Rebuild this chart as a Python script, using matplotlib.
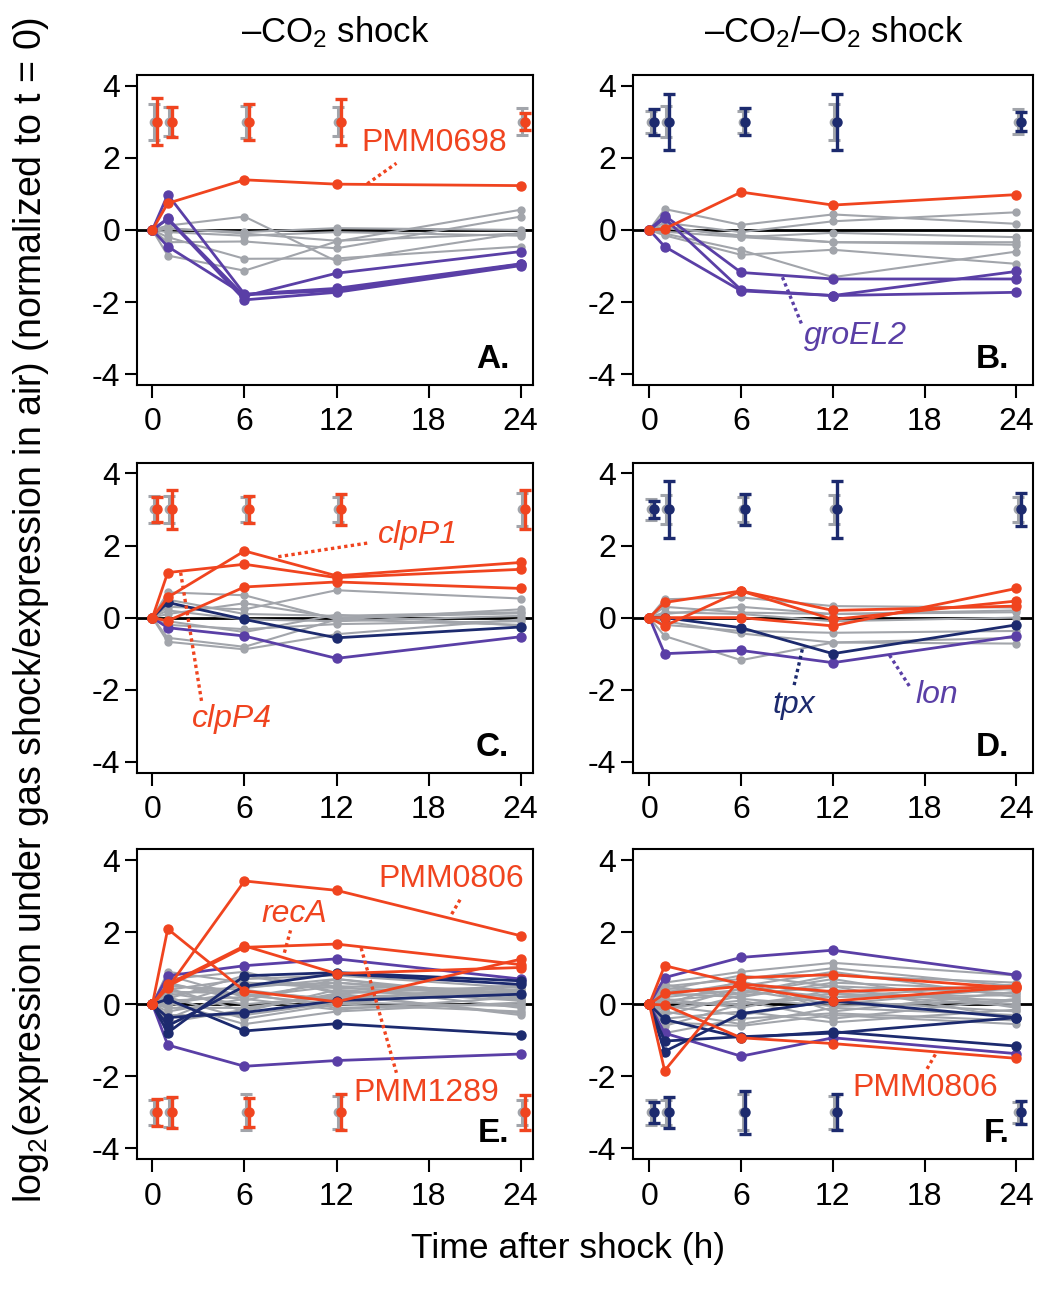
import matplotlib
matplotlib.use("Agg")
import matplotlib.pyplot as plt

plt.rcParams['font.family'] = ['Liberation Sans', 'DejaVu Sans']
plt.rcParams['mathtext.fontset'] = 'custom'
plt.rcParams['mathtext.rm'] = 'Liberation Sans'
plt.rcParams['mathtext.it'] = 'Liberation Sans:italic'
plt.rcParams['axes.unicode_minus'] = False

RED = '#f0441f'
PURPLE = '#5a3fa6'
NAVY = '#1c2a6e'
GRAY = '#a2a5ab'

# %% data: time points and log2 ratios
hours = [0, 1, 6, 12, 24]

A_red = [[0, 0.74, 1.39, 1.27, 1.23]]
A_purple = [[0, 0.98, -1.78, -1.62, -0.94], [0, 0.32, -1.84, -1.2, -0.6],
            [0, 0.30, -1.94, -1.73, -0.99], [0, -0.46, -1.8, -1.68, -0.95]]
A_navy = []
A_gray = [[0, 0.12, 0.37, -0.87, -0.08], [0, 0.03, -0.06, 0.05, 0.0],
          [0, -0.06, -0.16, -0.06, -0.16], [0, -0.34, -0.32, -0.51, 0.37],
          [0, -0.71, -1.13, -0.32, 0.56], [0, -0.2, -0.8, -0.79, -0.46],
          [0, 0.05, -0.1, -0.3, -0.1]]

B_red = [[0, 0.03, 1.05, 0.69, 0.98]]
B_purple = [[0, 0.4, -1.18, -1.36, -1.36], [0, 0.32, -1.66, -1.82, -1.15],
            [0, -0.46, -1.69, -1.82, -1.73]]
B_navy = []
B_gray = [[0, 0.58, 0.14, 0.43, 0.17], [0, 0.2, -0.06, 0.24, 0.49],
          [0, 0.1, -0.2, -0.08, -0.2], [0, -0.05, -0.2, -0.34, -0.41],
          [0, -0.1, -0.56, -1.31, -0.6], [0, -0.15, -0.69, -0.55, -0.94],
          [0, 0.05, -0.15, -0.34, -0.34]]

C_red = [[0, 1.25, 1.48, 1.11, 1.34], [0, 0.56, 1.85, 1.16, 1.53],
         [0, -0.09, 0.85, 0.99, 0.81]]
C_purple = [[0, -0.28, -0.51, -1.13, -0.53]]
C_navy = [[0, 0.42, -0.05, -0.56, -0.26]]
C_gray = [[0, 0.7, 0.62, -0.05, 0.23], [0, 0.3, 0.23, 0.76, 0.53],
          [0, 0.5, 0.1, 0.05, 0.15], [0, 0.2, -0.05, -0.1, 0.05],
          [0, -0.2, -0.32, -0.18, -0.1], [0, -0.56, -0.81, -0.05, -0.2],
          [0, -0.67, -0.88, -0.46, -0.05], [0, 0.1, 0.4, 0.0, 0.12],
          [0, -0.1, -0.4, 0.08, -0.22]]

D_red = [[0, 0.42, 0.74, 0.2, 0.32], [0, -0.23, 0.74, -0.05, 0.46],
         [0, 0.0, 0.0, -0.23, 0.81]]
D_purple = [[0, -1.0, -0.91, -1.25, -0.51]]
D_navy = [[0, 0.0, -0.28, -1.0, -0.2]]
D_gray = [[0, 0.51, 0.56, 0.32, 0.28], [0, 0.3, 0.14, 0.1, 0.2],
          [0, 0.15, 0.1, -0.1, 0.0], [0, -0.2, -0.37, -0.42, -0.37],
          [0, -0.51, -1.18, -0.69, -0.72], [0, -0.1, -0.44, -0.69, -0.56],
          [0, 0.1, 0.3, 0.1, 0.15]]

E_red = [[0, 0.45, 3.42, 3.16, 1.9], [0, 2.09, 0.37, 0.07, 1.25],
         [0, 0.5, 1.58, 1.67, 1.1], [0, 0.55, 1.62, 0.85, 1.02]]
E_purple = [[0, 0.79, 1.07, 1.26, 0.7], [0, -1.13, -1.72, -1.56, -1.38]]
E_navy = [[0, 0.14, -0.74, -0.54, -0.84], [0, -0.79, 0.79, 0.88, 0.65],
          [0, -0.37, -0.23, 0.1, 0.28], [0, -0.6, 0.5, 0.85, 0.55]]
E_gray = [[0, 0.9, 0.6, 0.5, 0.4], [0, 0.8, 0.2, 0.6, 0.3],
          [0, 0.7, 0.9, 0.3, 0.5], [0, 0.6, 0.1, 0.7, 0.2],
          [0, 0.5, 0.4, 0.1, 0.55], [0, 0.45, -0.2, 0.4, 0.1],
          [0, 0.4, 0.7, 0.8, 0.45], [0, 0.35, 0.3, -0.1, 0.0],
          [0, 0.3, 0.0, 0.2, 0.35], [0, 0.25, 0.5, 0.6, 0.15],
          [0, 0.2, -0.4, 0.0, -0.2], [0, 0.15, 0.8, 0.35, 0.25],
          [0, 0.1, 0.2, 0.5, -0.1], [0, 0.05, -0.55, -0.2, 0.05],
          [0, 0.0, 0.35, 0.15, 0.4], [0, -0.05, 0.6, 0.45, 0.3],
          [0, -0.1, -0.1, 0.25, -0.25], [0, -0.2, 0.15, -0.15, 0.2],
          [0, -0.3, -0.3, 0.05, -0.05], [0, -0.4, 0.45, 0.7, 0.1],
          [0, -0.5, -0.15, 0.3, -0.3], [0, 0.55, 0.25, 0.0, 0.5]]

F_red = [[0, 1.07, 0.56, 0.35, 0.5], [0, -1.84, 0.74, 0.82, 0.45],
         [0, 0.3, 0.5, 0.09, 0.48], [0, -0.02, -0.93, -1.09, -1.5]]
F_purple = [[0, 0.74, 1.3, 1.5, 0.81], [0, -0.8, -1.44, -0.93, -1.37]]
F_navy = [[0, -0.42, -0.93, -0.76, -1.16], [0, -1.31, -0.26, 0.09, -0.37],
          [0, -1.02, -0.9, -0.8, -0.37]]
F_gray = [[0, 0.6, 0.9, 1.15, 0.8], [0, 0.5, 0.7, 1.0, 0.5],
          [0, 0.45, 0.3, 0.8, 0.6], [0, 0.4, 0.8, 0.5, 0.3],
          [0, 0.35, 0.5, 0.9, 0.2], [0, 0.3, 0.2, 0.6, 0.4],
          [0, 0.25, 0.6, 0.3, 0.1], [0, 0.2, 0.4, 0.0, 0.45],
          [0, 0.15, -0.1, 0.4, 0.0], [0, 0.1, 0.3, 0.7, -0.1],
          [0, 0.05, 0.0, 0.2, 0.25], [0, 0.0, 0.65, -0.2, 0.35],
          [0, -0.05, -0.3, 0.1, -0.2], [0, -0.1, 0.1, -0.4, 0.15],
          [0, -0.2, -0.55, -0.1, -0.3], [0, -0.3, 0.25, 0.5, -0.4],
          [0, -0.4, -0.2, -0.5, -0.15], [0, -0.5, -0.6, -0.3, -0.55],
          [0, -0.6, 0.0, 0.3, -0.05], [0, -0.8, -0.4, -0.25, -0.45],
          [0, 0.55, 0.15, -0.05, 0.1], [0, -0.15, 0.45, 0.2, 0.55]]

# error bar half-widths (gray = all genes, coloured = highlighted genes)
A_err_gray = [0.5, 0.4, 0.45, 0.4, 0.37]
A_err_col = [0.65, 0.42, 0.5, 0.63, 0.23]
B_err_gray = [0.3, 0.43, 0.3, 0.5, 0.35]
B_err_col = [0.36, 0.77, 0.38, 0.77, 0.26]
C_err_gray = [0.37, 0.37, 0.35, 0.35, 0.45]
C_err_col = [0.35, 0.55, 0.37, 0.43, 0.53]
D_err_gray = [0.3, 0.4, 0.35, 0.4, 0.35]
D_err_col = [0.23, 0.8, 0.44, 0.79, 0.47]
E_err_gray = [0.35, 0.4, 0.5, 0.45, 0.35]
E_err_col = [0.38, 0.43, 0.4, 0.5, 0.48]
F_err_gray = [0.35, 0.35, 0.5, 0.45, 0.3]
F_err_col = [0.29, 0.43, 0.6, 0.5, 0.33]

panels = [
    ('A.', A_gray, A_purple, A_navy, A_red, A_err_gray, A_err_col, 3, RED),
    ('B.', B_gray, B_purple, B_navy, B_red, B_err_gray, B_err_col, 3, NAVY),
    ('C.', C_gray, C_purple, C_navy, C_red, C_err_gray, C_err_col, 3, RED),
    ('D.', D_gray, D_purple, D_navy, D_red, D_err_gray, D_err_col, 3, NAVY),
    ('E.', E_gray, E_purple, E_navy, E_red, E_err_gray, E_err_col, -3, RED),
    ('F.', F_gray, F_purple, F_navy, F_red, F_err_gray, F_err_col, -3, NAVY),
]

# gene labels: (panel, text, x, y, colour, italic, leader from, leader to)
labels = [
    (0, 'PMM0698', 13.6, 2.2, RED, False, (14.0, 1.28), (15.9, 1.85)),
    (1, 'groEL2', 10.1, -3.17, PURPLE, True, (8.7, -1.31), (10.0, -2.66)),
    (2, 'clpP1', 14.7, 2.08, RED, True, (8.2, 1.69), (14.2, 2.08)),
    (2, 'clpP4', 2.6, -3.04, RED, True, (1.84, 1.25), (3.2, -2.31)),
    (3, 'tpx', 8.05, -2.64, NAVY, True, (10.0, -0.88), (9.45, -1.9)),
    (3, 'lon', 17.4, -2.36, PURPLE, True, (15.7, -1.04), (17.0, -1.9)),
    (4, 'PMM0806', 14.7, 3.24, RED, False, (19.5, 2.5), (20.1, 2.94)),
    (4, 'recA', 7.1, 2.27, RED, True, (8.6, 1.43), (9.0, 2.05)),
    (4, 'PMM1289', 13.1, -2.69, RED, False, (13.6, 1.56), (15.9, -1.9)),
    (5, 'PMM0806', 13.3, -2.55, RED, False, (18.7, -1.39), (18.1, -1.83)),
]

# %% figure
fig = plt.figure(figsize=(10.39, 12.94), dpi=100)
lefts = [0.1319, 0.6095]
widths = [0.3811, 0.385]
bottoms = [0.7025, 0.4029, 0.1041]
height = 0.2396
xlims = [(-1.0, 24.8), (-1.05, 25.1)]

axes = []
for i, p in enumerate(panels):
    r, c = divmod(i, 2)
    ax = fig.add_axes([lefts[c], bottoms[r], widths[c], height])
    axes.append(ax)
    letter, gray, purple, navy, red, eg, ec, yc, ecol = p
    ax.axhline(0, color='black', lw=2.0, zorder=1)
    for y in gray:
        ax.plot(hours, y, '-o', color=GRAY, lw=1.5, ms=5, zorder=2)
    for y in purple:
        ax.plot(hours, y, '-o', color=PURPLE, lw=2.0, ms=6.5, zorder=3)
    for y in navy:
        ax.plot(hours, y, '-o', color=NAVY, lw=2.0, ms=6.5, zorder=3)
    for y in red:
        ax.plot(hours, y, '-o', color=RED, lw=2.0, ms=6.5, zorder=4)
    ax.errorbar([t + 0.1 for t in hours], [yc] * 5, yerr=eg, fmt='o',
                color=GRAY, ms=6, elinewidth=2.2, capsize=4, capthick=2.2, zorder=3)
    ax.errorbar([t + 0.28 for t in hours], [yc] * 5, yerr=ec, fmt='o',
                color=ecol, ms=6.5, elinewidth=2.4, capsize=4.5, capthick=2.4, zorder=4)
    ax.set_xlim(*xlims[c])
    ax.set_ylim(-4.3, 4.3)
    ax.set_xticks([0, 6, 12, 18, 24])
    ax.set_yticks([-4, -2, 0, 2, 4])
    ax.tick_params(length=9, width=1.5, labelsize=23, direction='out')
    ax.tick_params(axis='x', pad=7)
    ax.tick_params(axis='y', pad=3)
    for s in ax.spines.values():
        s.set_linewidth(1.5)
    ax.text(0.94, 0.055, letter, transform=ax.transAxes, ha='right',
            va='baseline', fontsize=24, fontweight='bold')

for k, txt, x, y, col, it, p0, p1 in labels:
    ax = axes[k]
    ax.text(x, y, txt, color=col, fontsize=23, va='baseline', ha='left',
            style='italic' if it else 'normal', zorder=6)
    ax.plot([p0[0], p1[0]], [p0[1], p1[1]], color=col, lw=2.4,
            linestyle=(0, (1, 1)), zorder=6)

fig.text(0.323, 0.9675, '\u2013CO$_2$ shock', ha='center', va='baseline', fontsize=25)
fig.text(0.802, 0.9675, '\u2013CO$_2$/\u2013O$_2$ shock', ha='center', va='baseline', fontsize=25)
fig.text(0.030, 0.529, 'log$_2$(expression under gas shock/expression in air) (normalized to t = 0)',
         rotation=90, ha='center', va='center', fontsize=27)
fig.text(0.547, 0.035, 'Time after shock (h)', ha='center', va='center', fontsize=25.5)

fig.savefig('out.png', dpi=100)
